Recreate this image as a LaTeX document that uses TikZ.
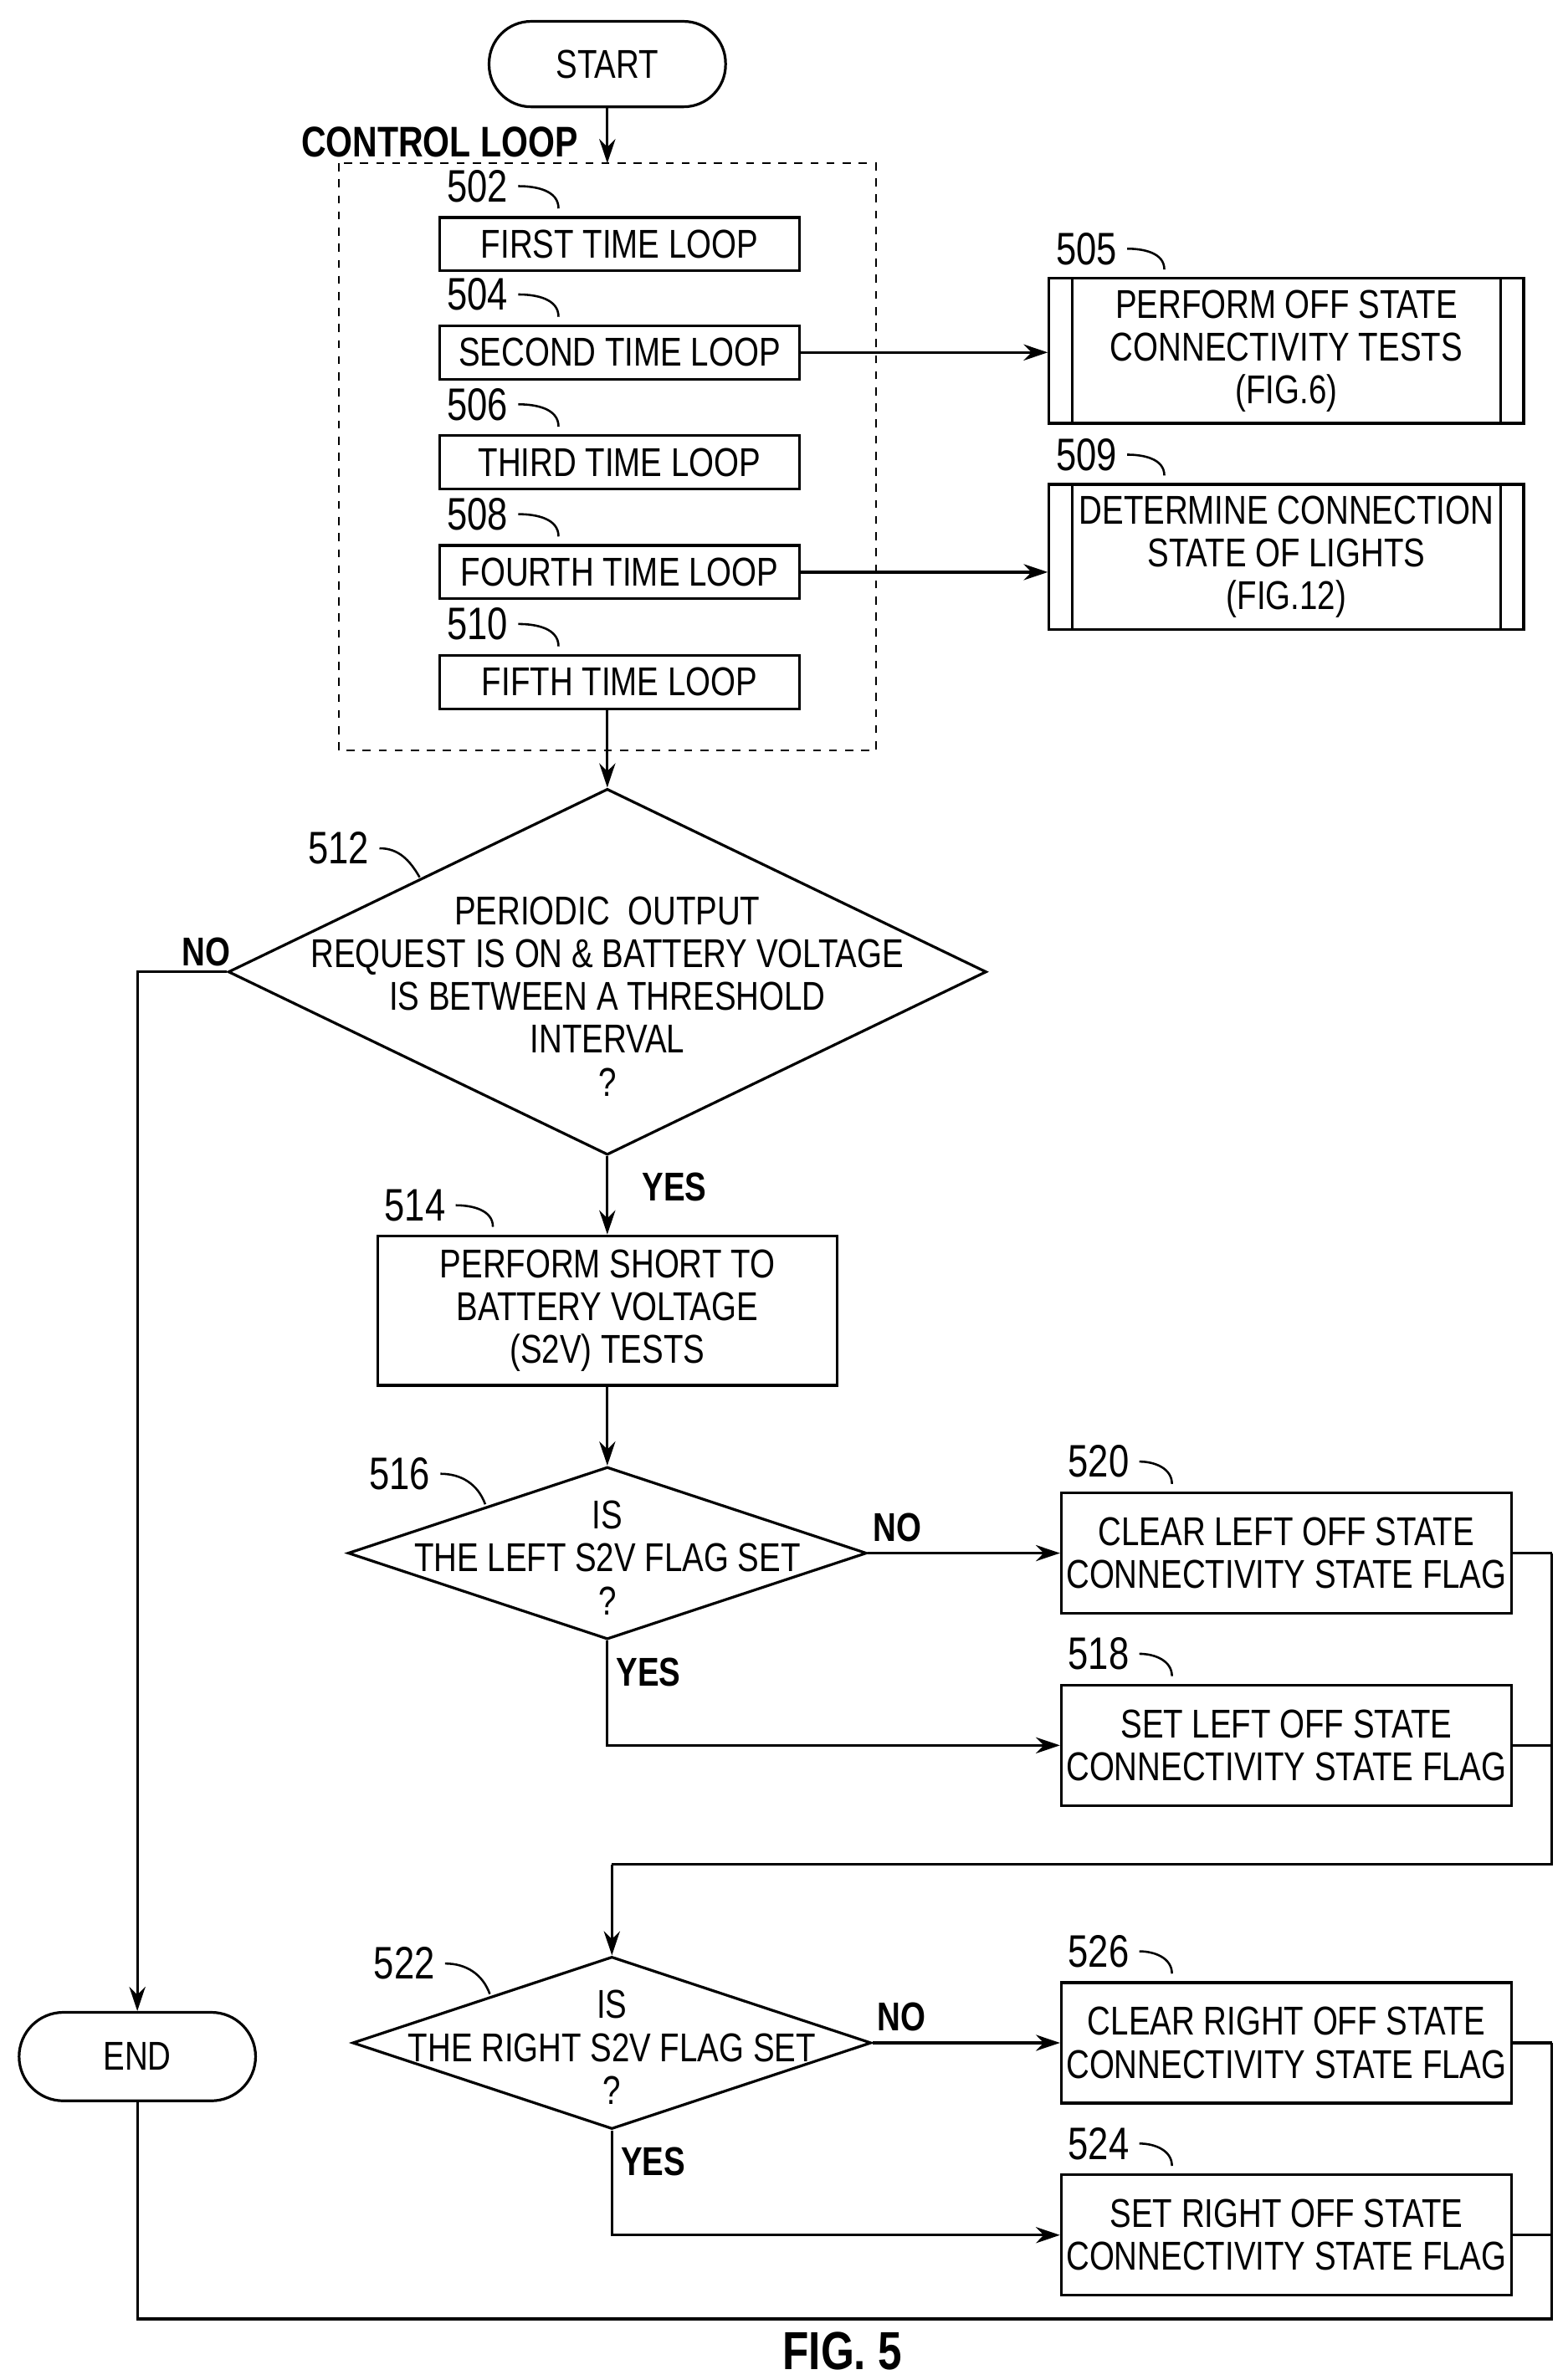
\documentclass[tikz,border=0pt]{standalone}
\usepackage{fontspec}
\setmainfont{Liberation Sans}[FakeStretch=0.8]
\usetikzlibrary{arrows.meta,positioning,shapes.geometric}
\begin{document}
\begin{tikzpicture}[
    x = 0.02cm, y = -0.02cm,
    >= {Stealth[length=9pt,width=6pt]},
    line width = 1pt,
    font = \fontsize{15}{16}\selectfont
    ]
    \tikzset{
    box/.style = {draw, rectangle, align=center, inner sep=0pt},
    term/.style = {draw, rounded corners=28pt, minimum width=155\pgflinewidth, inner sep=0pt},
    num/.style = {font=\fontsize{17}{17}\selectfont},
    tag/.style = {font=\bfseries\fontsize{15}{15}\selectfont},
    hook/.style = {line width=0.8pt}
    }
    \useasboundingbox (0,0) rectangle (1024,1560);

    % start and control loop
    \node[draw, rounded corners=0.55cm, minimum width=3.1cm, minimum height=1.12cm] (start) at (398,42) {START};
    \node[tag, font=\bfseries\fontsize{16}{16}\selectfont] (cl) at (288,93) {CONTROL LOOP};
    \draw[dashed, line width=0.6pt] (222,107) rectangle (574,492);
    \foreach \n/\y/\t in {502/160/FIRST, 504/231/SECOND, 506/303/THIRD, 508/375/FOURTH, 510/447/FIFTH}{
      \node[box, minimum width=4.72cm, minimum height=0.7cm] (b\n) at (406,\y) {\t{} TIME LOOP};
      \node[num] (l\n) at (313,\y-38) {\n};
      \draw[hook] (l\n.east) to[out=0,in=90] ([xshift=-0.8cm,yshift=0.1cm]b\n.north);
    }
    \draw[->] (start) -- (398,107);

    % subroutine boxes
    \foreach \n/\y/\t in {505/230/{PERFORM OFF STATE\\CONNECTIVITY TESTS\\(FIG.6)}, 509/365/{DETERMINE CONNECTION\\STATE OF LIGHTS\\(FIG.12)}}{
      \node[box, minimum width=6.22cm, minimum height=1.9cm] (b\n) at (843,\y) {\t};
      \draw ([xshift=0.32cm]b\n.north west) -- ([xshift=0.32cm]b\n.south west);
      \draw ([xshift=-0.32cm]b\n.north east) -- ([xshift=-0.32cm]b\n.south east);
      \node[num] (l\n) at (712,\y-67) {\n};
      \draw[hook] (l\n.east) to[out=0,in=90] ([xshift=-1.6cm,yshift=0.1cm]b\n.north);
    }
    \draw[->] (b504) -- (b504 -| b505.west);
    \draw[->] (b508) -- (b508 -| b509.west);

    % decision 512
    \node[diamond, draw, minimum width=9.94cm, minimum height=4.8cm, aspect=2.07, inner sep=0pt] (d512) at (398,637) {};
    \node[align=center] (t512) at (398,653) {PERIODIC\ \ OUTPUT\\REQUEST IS ON \& BATTERY VOLTAGE\\IS BETWEEN A THRESHOLD\\INTERVAL\\?};
    \node[num] (l512) at (222,556) {512};
    \draw[hook] (l512.east) to[out=0,in=120] (275,575);
    \draw[->] (b510.south -| d512.north) -- (d512.north);

    \node[term, minimum width=3.1cm, minimum height=1.16cm, rounded corners=0.58cm] (end) at (90,1348) {END};
    \node[tag] (no512) at (135,624) {NO};
    \draw[->] (d512.west) -- (90,637) -- (end.north);

    % S2V tests
    \node[box, minimum width=6.02cm, minimum height=1.96cm] (b514) at (398,859) {PERFORM SHORT TO\\BATTERY VOLTAGE\\(S2V) TESTS};
    \node[num] (l514) at (272,790) {514};
    \draw[hook] (l514.east) to[out=0,in=90] ([xshift=-1.5cm,yshift=0.1cm]b514.north);
    \node[tag] (yes512) at (442,778) {YES};
    \draw[->] (d512.south) -- (b514.north);

    % left / right decisions
    \foreach \n/\x/\y/\s/\a/\b in {516/398/1018/LEFT/520/518, 522/401/1339/RIGHT/526/524}{
      \node[diamond, draw, minimum width=6.8cm, minimum height=2.26cm, aspect=3, inner sep=0pt] (d\n) at (\x,\y) {};
      \node[align=center] (t\n) at (\x,\y+3) {IS\\THE \s{} S2V FLAG SET\\?};
      \node[num] (l\n) at (\x-136,\y-52) {\n};
      \draw[hook] (l\n.east) to[out=0,in=110] (\x-80,\y-32);
      \node[box, minimum width=5.9cm, minimum height=1.58cm] (b\a) at (843,\y) {CLEAR \s{} OFF STATE\\CONNECTIVITY STATE FLAG};
      \node[box, minimum width=5.9cm, minimum height=1.58cm] (b\b) at (843,\y+126) {SET \s{} OFF STATE\\CONNECTIVITY STATE FLAG};
      \node[num] (l\a) at (720,\y-60) {\a};
      \node[num] (l\b) at (720,\y+66) {\b};
      \draw[hook] (l\a.east) to[out=0,in=90] ([xshift=-1.5cm,yshift=0.1cm]b\a.north);
      \draw[hook] (l\b.east) to[out=0,in=90] ([xshift=-1.5cm,yshift=0.1cm]b\b.north);
      \node[tag] (no\n) at (\x+190,\y-17) {NO};
      \node[tag] (yes\n) at (\x+27,\y+78) {YES};
      \draw[->] (d\n.east) -- (b\a.west);
      \draw[->] (d\n.south) -- (\x,\y+126) -- (b\b.west);
      \draw (b\a.east) -- (1017,\y);
      \draw (b\b.east) -- (1017,\y+126);
    }
    \draw[->] (b514.south) -- (d516.north);
    \draw (1017,1018) -- (1017,1222) -- (401,1222);
    \draw[->] (401,1222) -- (d522.north);
    \draw (1017,1339) -- (1017,1520) -- (90,1520) -- (end.south);

    \node[font=\bfseries\fontsize{20}{20}\selectfont] (fig) at (552,1541) {FIG. 5};
\end{tikzpicture}
\end{document}
